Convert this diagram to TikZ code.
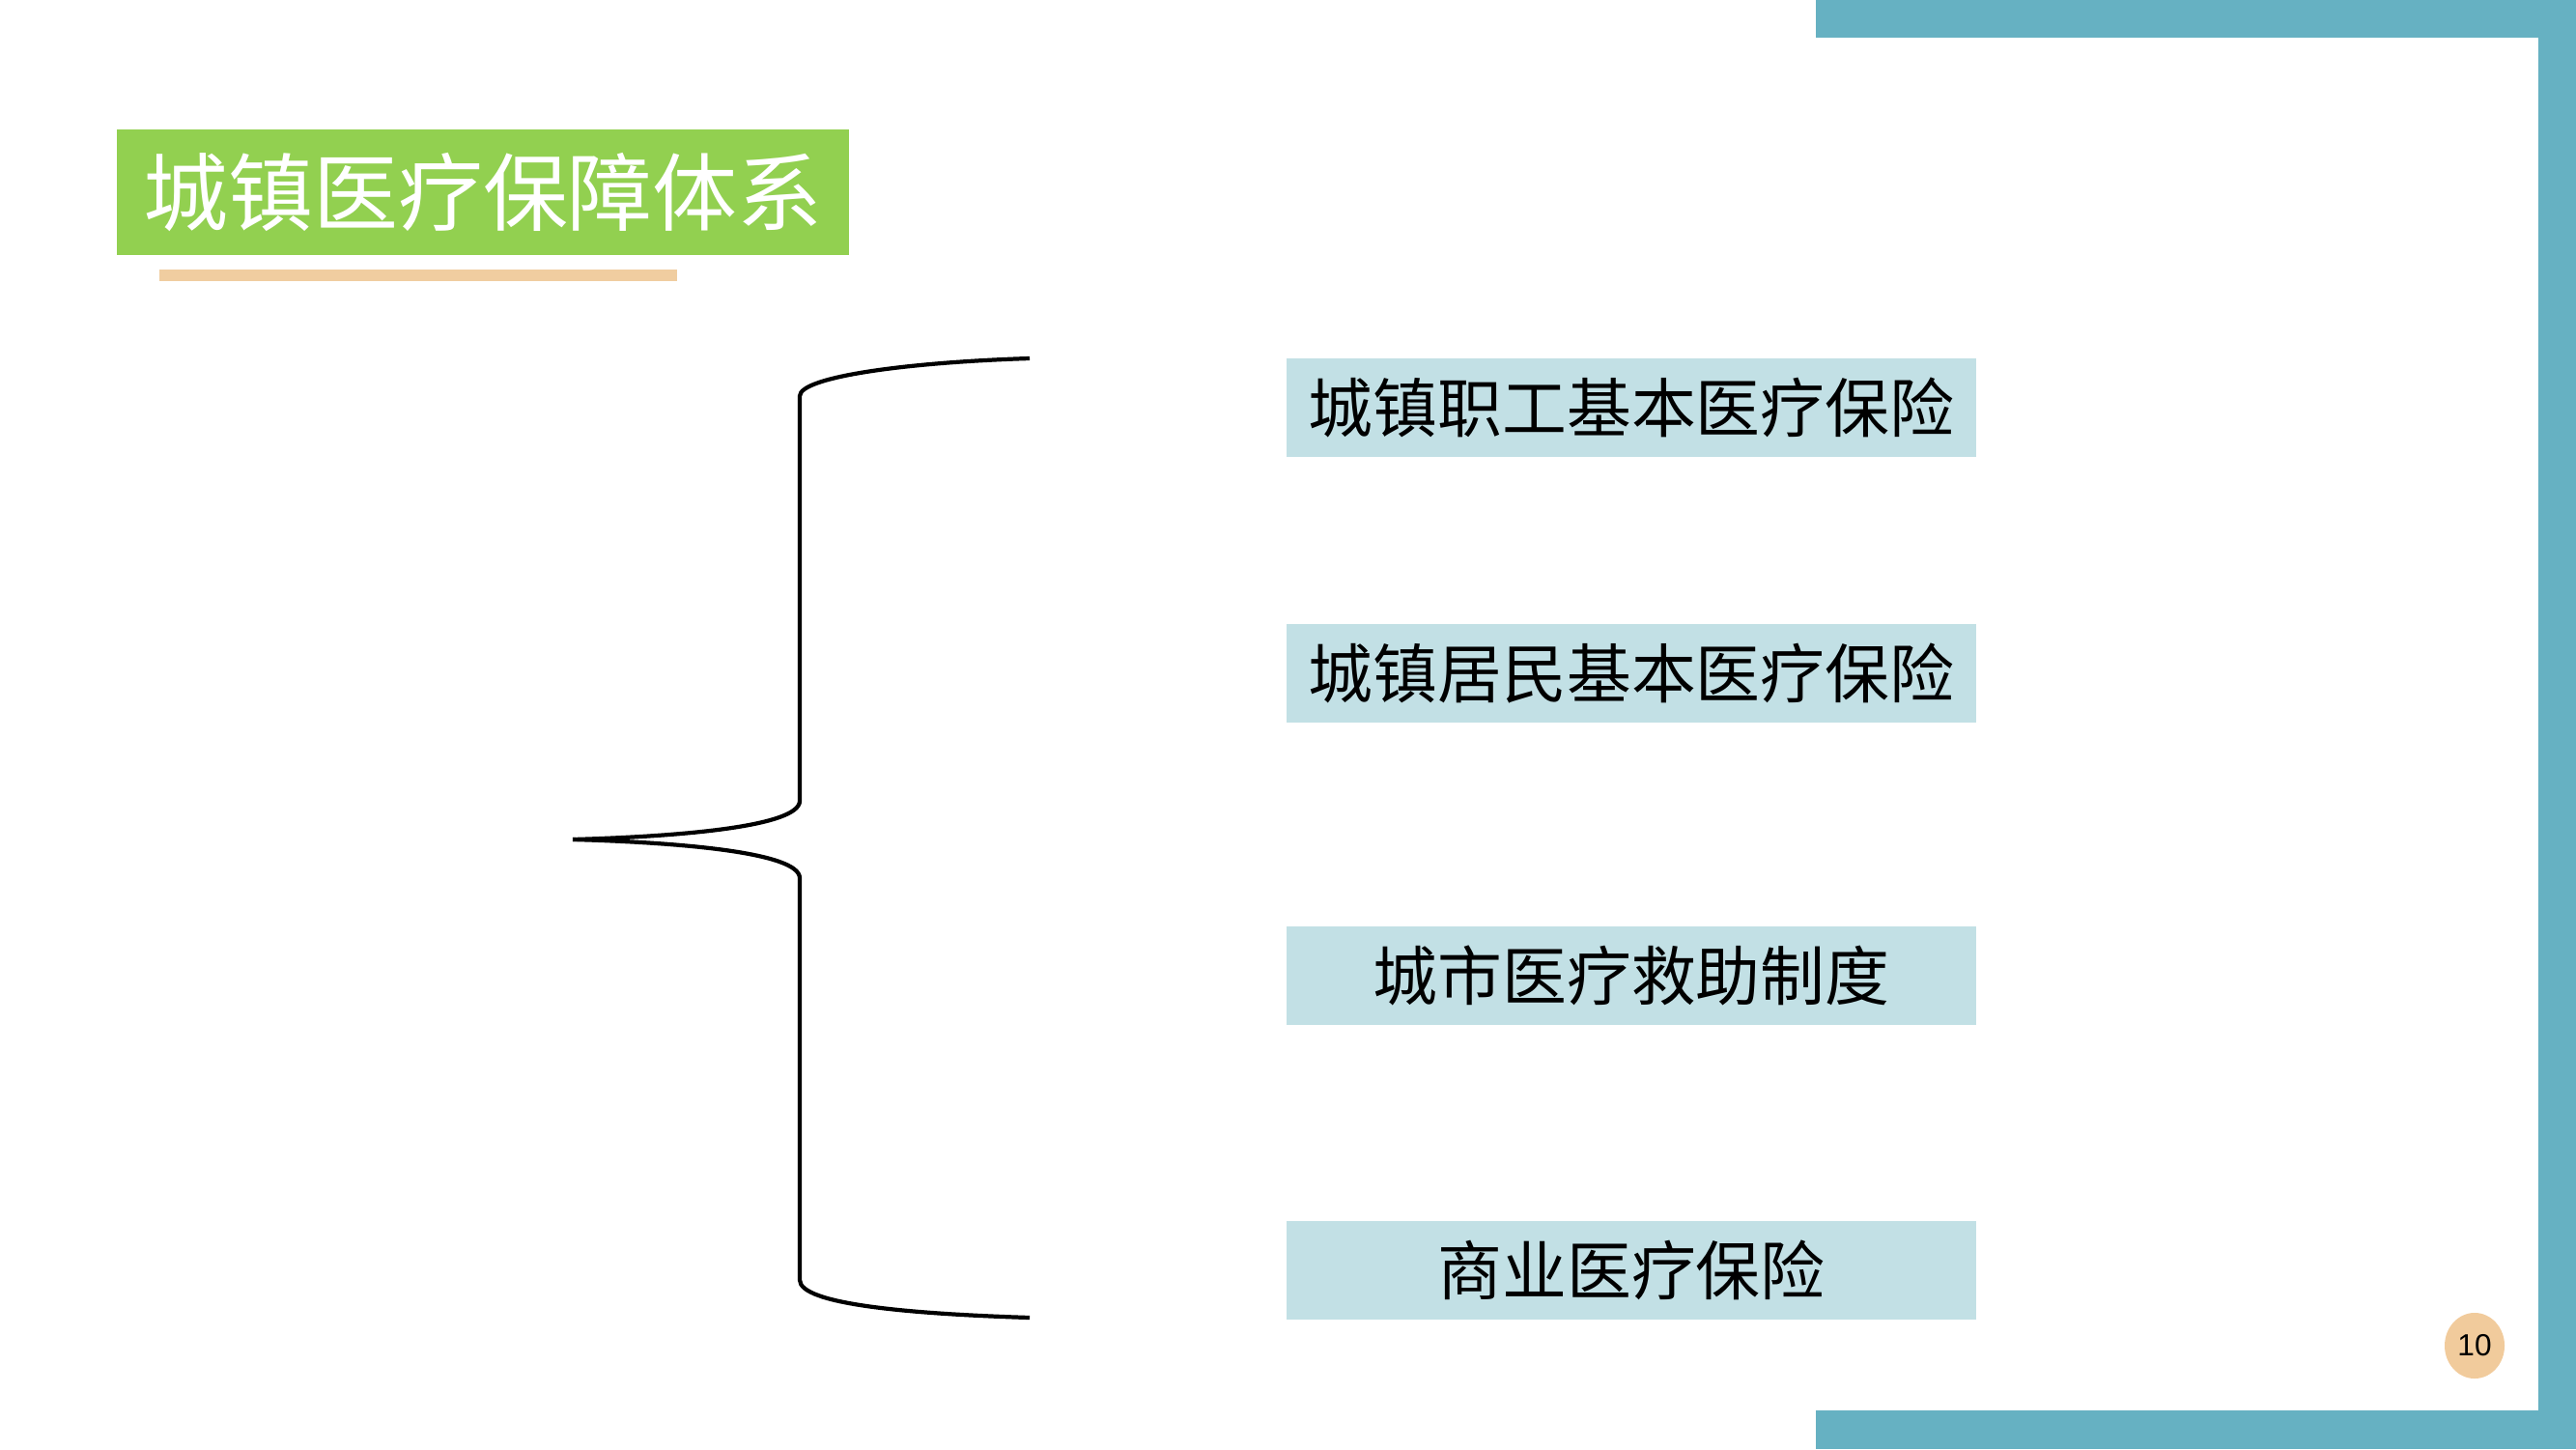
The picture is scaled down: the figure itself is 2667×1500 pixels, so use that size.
\documentclass[tikz,border=0pt]{standalone}
\usepackage{fontspec}
\newfontfamily\cjk{Noto Sans CJK SC}
\newfontfamily\numfont{Liberation Sans}
\usepackage{xcolor}
\usepackage{tikz}
\usetikzlibrary{shapes,positioning}
\definecolor{tealbar}{HTML}{66B1C2}
\definecolor{titlegreen}{HTML}{92D050}
\definecolor{sandline}{HTML}{F0CDA0}
\definecolor{itemblue}{HTML}{C2E0E5}
\definecolor{pagesand}{HTML}{F1CB9C}

\begin{document}
\begin{tikzpicture}[x=0.01cm, y=-0.01cm,
  itembox/.style={fill=itemblue, minimum width=7.14cm, minimum height=1.02cm,
    inner sep=0pt, font=\cjk\fontsize{19}{19}\selectfont},
  titlebox/.style={fill=titlegreen, text=white, minimum width=7.58cm, minimum height=1.30cm,
    inner sep=0pt, font=\cjk\fontsize{25}{25}\selectfont}]

  \useasboundingbox (0,0) rectangle (2667,1500);

  \fill[tealbar] (1880,0) rectangle (2667,39);
  \fill[tealbar] (2628,0) rectangle (2667,1500);
  \fill[tealbar] (1880,1460) rectangle (2667,1500);

  \node[titlebox] (title) at (500,199) {城镇医疗保障体系};
  \fill[sandline] (165,279) rectangle (701,291);

  \node[itembox] (worker) at (1689,422) {城镇职工基本医疗保险};
  \node[itembox] (resident) at (1689,697) {城镇居民基本医疗保险};
  \node[itembox] (aid) at (1689,1010) {城市医疗救助制度};
  \node[itembox] (commerce) at (1689,1315) {商业医疗保险};

  \coordinate (bracetop) at (1066,371);
  \coordinate (bracetip) at (593,869);
  \coordinate (bracebot) at (1066,1364);
    \draw[line width=1.2pt] (bracetop) .. controls (940,375) and (828,390) .. (828,410)
      -- (828,829) .. controls (828,856) and (700,866) .. (bracetip);
    \draw[line width=1.2pt] (bracetip) .. controls (700,872) and (828,882) .. (828,909)
      -- (828,1325) .. controls (828,1350) and (940,1360) .. (bracebot);

  \node[ellipse, fill=pagesand, minimum width=0.62cm, minimum height=0.68cm, inner sep=0pt,
    font=\numfont\fontsize{9}{9}\selectfont] (page) at (2562,1393) {10};

\end{tikzpicture}
\end{document}
